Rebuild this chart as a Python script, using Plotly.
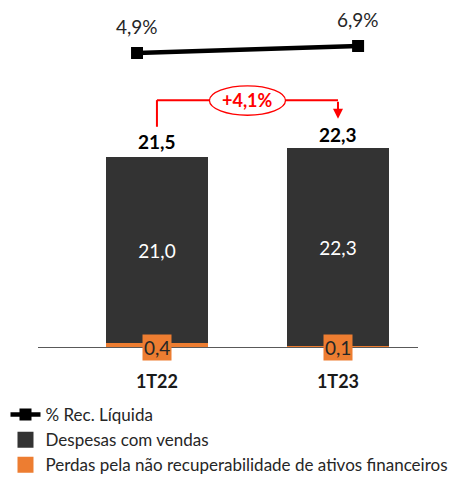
import plotly.graph_objects as go

# Valores (R$ milhões) e % da receita líquida
categorias = ["1T22", "1T23"]
despesas_vendas = [21.0, 22.3]
perdas_ativos = [0.4, 0.1]
totais = [21.5, 22.3]
pct_rec_liquida = [4.9, 6.9]
variacao_pct = 4.1

ESCURO = "#333333"
LARANJA = "#ED7D31"
VERMELHO = "#FF0000"
TEXTO = "#262626"
FONTE = "Lato"

W, H = 458, 479
BASE_PX = 347          # posição vertical da linha de base das barras
PX_POR_UNID = 8.88     # escala das barras


def br(v, suf=""):
    return f"{v:.1f}".replace(".", ",") + suf


fig = go.Figure()

# Barras empilhadas: perdas na base, despesas por cima
fig.add_bar(x=categorias, y=perdas_ativos, marker=dict(color=LARANJA, line_width=0),
            width=0.56, showlegend=False, hoverinfo="skip")
fig.add_bar(x=categorias, y=despesas_vendas, marker=dict(color=ESCURO, line_width=0),
            width=0.56, text=[br(v) for v in despesas_vendas], textposition="inside",
            insidetextanchor="middle", textangle=0,
            textfont=dict(color="white", size=19, family=FONTE),
            showlegend=False, hoverinfo="skip")

# Linha do % sobre a receita líquida
fig.add_scatter(x=categorias, y=pct_rec_liquida, xaxis="x2", yaxis="y2",
                mode="lines+markers", line=dict(color="black", width=4.5),
                marker=dict(symbol="square", size=12, color="black"),
                name="% Rec. Líquida", legendrank=1, legendgroup="a")

# Entradas de legenda das barras
fig.add_scatter(x=[None], y=[None], mode="markers",
                marker=dict(symbol="square", size=20, color=ESCURO),
                name="Despesas com vendas", legendrank=2, legendgroup="b")
fig.add_scatter(x=[None], y=[None], mode="markers",
                marker=dict(symbol="square", size=20, color=LARANJA),
                name="Perdas pela não recuperabilidade de ativos financeiros",
                legendrank=3, legendgroup="c")

anots = []
for i, c in enumerate(categorias):
    # total acima da barra
    anots.append(dict(x=i, y=totais[i], xref="x", yref="y", text=f"<b>{br(totais[i])}</b>",
                      yanchor="bottom", yshift=1, showarrow=False,
                      font=dict(size=19, color="black", family=FONTE)))
    # rótulo das perdas na linha de base
    anots.append(dict(x=i, y=0, xref="x", yref="y", text=br(perdas_ativos[i]),
                      yanchor="middle", showarrow=False, bgcolor=LARANJA, borderpad=1,
                      font=dict(size=19, color=TEXTO, family=FONTE)))
    # rótulo do %
    anots.append(dict(x=i, y=pct_rec_liquida[i], xref="x2", yref="y2",
                      text=br(pct_rec_liquida[i], "%"), yanchor="middle", yshift=26,
                      showarrow=False, font=dict(size=19, color=TEXTO, family=FONTE)))

# Chave de variação entre os trimestres
nivel = max(totais) + 5.5
ini = totais[0] + 3.3
ponta = totais[1] + 3.4
shapes = [
    dict(type="line", xref="x", yref="y", x0=0, x1=0, y0=ini, y1=nivel,
         line=dict(color=VERMELHO, width=2)),
    dict(type="line", xref="x", yref="y", x0=0, x1=1, y0=nivel, y1=nivel,
         line=dict(color=VERMELHO, width=2)),
    dict(type="circle", xref="x", yref="y", x0=0.5 - 0.21, x1=0.5 + 0.21,
         y0=nivel - 1.7, y1=nivel + 1.6, fillcolor="white",
         line=dict(color=VERMELHO, width=1.3)),
]
anots.append(dict(x=1, y=ponta, ax=1, ay=nivel, xref="x", yref="y", axref="x", ayref="y",
                  text="", showarrow=True, arrowhead=2, arrowsize=1, arrowwidth=2,
                  arrowcolor=VERMELHO))
anots.append(dict(x=0.5, y=nivel, xref="x", yref="y",
                  text=f"<b>+{br(variacao_pct, '%')}</b>", showarrow=False,
                  font=dict(size=18, color=VERMELHO, family=FONTE)))

x_dom = [38 / W, 418 / W]
fig.update_layout(
    width=W, height=H, margin=dict(l=0, r=0, t=0, b=0, autoexpand=False),
    paper_bgcolor="white", plot_bgcolor="white",
    barmode="stack", bargap=0,
    font=dict(family=FONTE, color=TEXTO),
    xaxis=dict(domain=x_dom, type="category", range=[-0.657, 1.442],
               showline=True, linecolor="#595959", linewidth=1, ticks="",
               showgrid=False, tickvals=categorias,
               ticktext=[f"<b>{c}</b>" for c in categorias],
               tickfont=dict(size=18, color="#1a1a1a", family=FONTE),
               ticklabelstandoff=18),
    yaxis=dict(domain=[1 - BASE_PX / H, 1], range=[0, BASE_PX / PX_POR_UNID],
               visible=False),
    xaxis2=dict(overlaying="x", type="category", range=[-0.448, 1.271], visible=False),
    yaxis2=dict(overlaying="y", range=[-79.1, 20.04], visible=False),
    legend=dict(x=0.012, y=1 - 397 / H, xanchor="left", yanchor="top",
                orientation="v", traceorder="normal", tracegroupgap=8,
                bgcolor="rgba(0,0,0,0)", font=dict(size=17, color=TEXTO, family=FONTE)),
    shapes=shapes, annotations=anots,
)

fig.write_html("out.html")
